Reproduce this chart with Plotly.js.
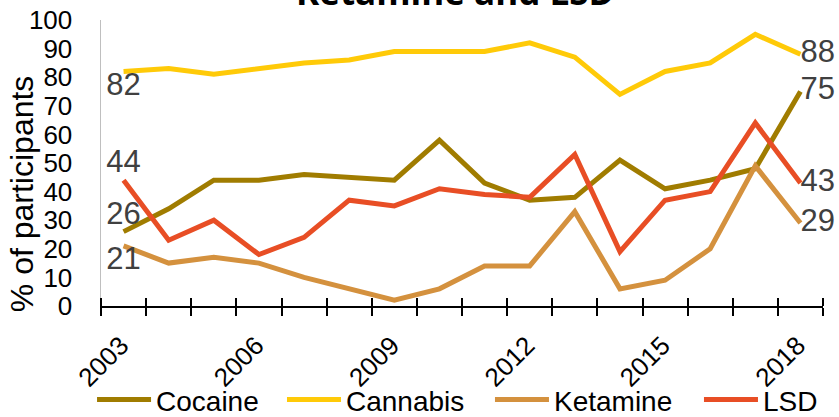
<!DOCTYPE html>
<html>
<head>
<meta charset="utf-8">
<script src="https://cdn.plot.ly/plotly-3.0.1.min.js"></script>
<style>
  html, body { margin: 0; padding: 0; background: #fff; }
  #chart { width: 839px; height: 417px; }
</style>
</head>
<body>
<div id="chart"></div>
<script>
const years = [2003, 2004, 2005, 2006, 2007, 2008, 2009, 2010, 2011, 2012, 2013, 2014, 2015, 2016, 2017, 2018];
const yearLabels = ['2003', '2006', '2009', '2012', '2015', '2018'];

const cocaine  = [26, 34, 44, 44, 46, 45, 44, 58, 43, 37, 38, 51, 41, 44, 48, 75];
const cannabis = [82, 83, 81, 83, 85, 86, 89, 89, 89, 92, 87, 74, 82, 85, 95, 88];
const ketamine = [21, 15, 17, 15, 10, 6, 2, 6, 14, 14, 33, 6, 9, 20, 49, 29];
const lsd      = [44, 23, 30, 18, 24, 37, 35, 41, 39, 38, 53, 19, 37, 40, 64, 43];

const seriesNames = ['Cocaine', 'Cannabis', 'Ketamine', 'LSD'];
const seriesData = [cocaine, cannabis, ketamine, lsd];
const seriesColors = ['#A07C00', '#FFCA08', '#D4913E', '#E84E25'];
// where the first value label sits (the last one always goes to the right)
const firstLabelPos = ['top center', 'bottom center', 'bottom center', 'top center'];
// one legend per series so the entries can sit where the original has them
const legendIds = ['legend', 'legend2', 'legend3', 'legend4'];
const legendX = [0.1097, 0.3361, 0.5840, 0.8331];

const FONT = 'Liberation Sans, Arial, sans-serif';

// Excel style category axis: ticks between years, labels on the years
const boundaries = years.map(y => y - 0.5).concat([years[years.length - 1] + 0.5]);
const boundaryText = boundaries.map(b => {
    const yr = String(b + 0.5);
    return yearLabels.includes(yr) ? yr : '';
});

const traces = seriesData.map((vals, k) => {
    const last = vals.length - 1;
    return {
        x: years,
        y: vals,
        name: seriesNames[k],
        legend: legendIds[k],
        type: 'scatter',
        mode: 'lines+text',
        line: { color: seriesColors[k], width: 5 },
        text: vals.map((v, i) => (i === 0 || i === last) ? String(v) : ''),
        textposition: vals.map((v, i) => i === last ? 'middle right' : firstLabelPos[k]),
        textfont: { family: FONT, size: 31, color: '#404040' },
        cliponaxis: false,
        hoverinfo: 'x+y+name'
    };
});

const layout = {
    width: 839,
    height: 417,
    paper_bgcolor: '#fff',
    plot_bgcolor: '#fff',
    margin: { l: 101, r: 16, t: 20, b: 111 },
    font: { family: FONT, color: '#000' },
    xaxis: {
        type: 'linear',
        range: [boundaries[0], boundaries[boundaries.length - 1]],
        tickmode: 'array',
        tickvals: boundaries,
        ticktext: boundaryText,
        ticks: 'outside', ticklen: 8, tickwidth: 2, tickcolor: '#000',
        minor: {
            tickmode: 'array',
            tickvals: boundaries.map(b => b + 1e-4),
            ticks: 'inside', ticklen: 8, tickwidth: 2, tickcolor: '#000',
            showgrid: false
        },
        tickangle: -45,
        ticklabelshift: 20,
        ticklabelstandoff: 4,
        tickfont: { family: FONT, size: 26, color: '#000' },
        showline: true, linecolor: '#000', linewidth: 2,
        showgrid: false, zeroline: false,
        fixedrange: true
    },
    yaxis: {
        range: [0, 100],
        tickmode: 'linear', tick0: 0, dtick: 10,
        ticks: '',
        ticklabelstandoff: 22,
        tickfont: { family: FONT, size: 26, color: '#000' },
        showline: true, linecolor: '#BFBFBF', linewidth: 1.5,
        showgrid: false, zeroline: false,
        fixedrange: true
    },
    annotations: [{
        // the chart title runs off the top edge in the original
        text: '<b>Ketamine and LSD</b>',
        xref: 'paper', x: 0.49, xanchor: 'center',
        yref: 'paper', y: 1.012, yanchor: 'bottom',
        showarrow: false,
        font: { family: 'Open Sans, sans-serif', size: 35, color: '#000' }
    }, {
        text: '% of participants',
        textangle: -90,
        xref: 'paper', x: -0.109, xanchor: 'center',
        yref: 'paper', y: 0.392, yanchor: 'middle',
        showarrow: false,
        font: { family: FONT, size: 32, color: '#000' }
    }],
    showlegend: true
};

legendIds.forEach((id, k) => {
    layout[id] = {
        orientation: 'h',
        xref: 'container', x: legendX[k], xanchor: 'left',
        yref: 'container', y: 0.041, yanchor: 'middle',
        font: { family: FONT, size: 28, color: '#000' },
        bgcolor: 'rgba(0,0,0,0)',
        itemwidth: 54
    };
});

Plotly.newPlot('chart', traces, layout, { displayModeBar: false, staticPlot: true });
</script>
</body>
</html>
